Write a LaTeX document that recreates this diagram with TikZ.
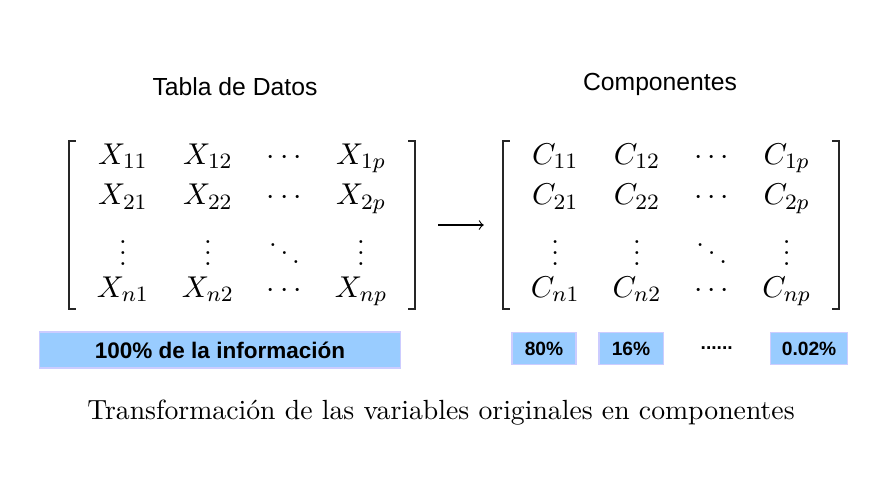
\documentclass[tikz,border=0pt]{standalone}
\usepackage{fontspec}
\usetikzlibrary{matrix,positioning}
\newfontfamily\arial{Liberation Sans}
\definecolor{celeste}{HTML}{99CCFF}
\definecolor{lila}{HTML}{CCCCFF}

\begin{document}
\begin{tikzpicture}[
    x=0.0128cm, y=-0.0128cm,
    titulo/.style={font=\arial\fontsize{9}{11}\selectfont},
    tabla/.style={
      matrix of math nodes,
      nodes={anchor=base, inner sep=0pt, font=\fontsize{11}{13}\selectfont},
      column sep=12pt,
      row sep=4pt,
      inner xsep=10pt,
      inner ysep=1pt
    },
    corchete/.style={draw=black!85, line width=0.7pt},
    barra/.style={
      rectangle,
      draw=lila,
      fill=celeste,
      line width=0.4pt,
      inner sep=0pt,
      minimum width=4.61cm,
      minimum height=0.46cm,
      font=\arial\bfseries\fontsize{8.2}{10}\selectfont
    },
    pct/.style={barra, minimum width=0.82cm, minimum height=0.40cm, font=\arial\bfseries\fontsize{7}{9}\selectfont},
    line/.style={draw, -to, line width=0.4pt},
]
    \useasboundingbox (0,0) rectangle (882,496);

    \node [titulo] (datosTit) at (235,87) {Tabla de Datos};
    \node [titulo] (compTit) at (660,84) {Componentes};

    \matrix [tabla] (datos) at (242,225) {
      X_{11} & X_{12} & \cdots & X_{1p} \\
      X_{21} & X_{22} & \cdots & X_{2p} \\
      \vdots & \vdots & \ddots & \vdots \\
      X_{n1} & X_{n2} & \cdots & X_{np} \\
    };
    \matrix [tabla] (comp) at (671,225) {
      C_{11} & C_{12} & \cdots & C_{1p} \\
      C_{21} & C_{22} & \cdots & C_{2p} \\
      \vdots & \vdots & \ddots & \vdots \\
      C_{n1} & C_{n2} & \cdots & C_{np} \\
    };

    \foreach \m in {datos,comp} {
      \draw [corchete] (\m.north west) ++(7,0) -- (\m.north west) -- (\m.south west) -- ++(7,0);
      \draw [corchete] (\m.north east) ++(-7,0) -- (\m.north east) -- (\m.south east) -- ++(-7,0);
    }

    \path [line, shorten <=8.5pt, shorten >=7pt] (datos) -- (comp);

    \node [barra] (info) at (220,350) {100\% de la información};
    \node [pct] (p80) at (544,348.5) {80\%};
    \node [pct, right=0.28cm of p80] (p16) {16\%};
    \node [pct, right=1.36cm of p16, minimum width=0.99cm] (p002) {0.02\%};
    \path (p16) -- node [font=\arial\bfseries\fontsize{7}{9}\selectfont] (pdots) {......} (p002);

    \node [font=\fontsize{10.1}{12}\selectfont] (pie) at (441,413) {Transformación de las variables originales en componentes};
\end{tikzpicture}
\end{document}
